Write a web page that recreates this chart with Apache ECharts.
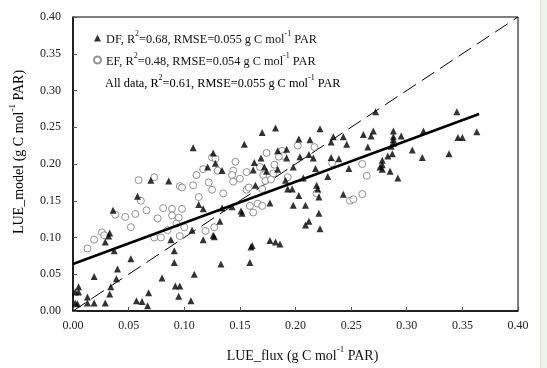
<!DOCTYPE html>
<html>
<head>
<meta charset="utf-8">
<script src="https://cdn.jsdelivr.net/npm/echarts@6/dist/echarts.min.js"></script>
<style>
html,body{margin:0;padding:0;background:#fff;}
#c{width:547px;height:368px;}
</style>
</head>
<body>
<div id="c"></div>
<script>
// ---- data ----
const xTicks = [0, 0.05, 0.10, 0.15, 0.20, 0.25, 0.30, 0.35, 0.40];
const yTicks = [0, 0.05, 0.10, 0.15, 0.20, 0.25, 0.30, 0.35, 0.40];

// DF points: [LUE_flux, LUE_model]
const dfPoints = [
 [0.005,0.033],[0.002,0.026],[0.005,0.026],[0.002,0.011],[0.004,0.010],
 [0.013,0.019],[0.013,0.011],[0.019,0.011],[0.019,0.047],[0.029,0.011],
 [0.033,0.023],[0.034,0.033],[0.039,0.044],[0.040,0.057],[0.037,0.082],
 [0.052,0.071],[0.029,0.094],[0.032,0.102],[0.033,0.106],[0.036,0.137],
 [0.057,0.014],[0.062,0.013],[0.067,0.007],[0.068,0.025],[0.058,0.156],
 [0.070,0.178],[0.080,0.045],[0.086,0.177],[0.091,0.082],[0.091,0.066],
 [0.088,0.097],[0.092,0.034],[0.096,0.034],[0.095,0.020],[0.106,0.014],
 [0.108,0.222],[0.109,0.050],[0.107,0.110],[0.113,0.145],[0.117,0.139],
 [0.117,0.097],[0.126,0.215],[0.128,0.201],[0.121,0.196],[0.134,0.191],
 [0.126,0.103],[0.127,0.101],[0.132,0.122],[0.133,0.064],[0.134,0.140],
 [0.143,0.142],[0.151,0.136],[0.152,0.133],[0.154,0.227],[0.161,0.089],
 [0.160,0.087],[0.159,0.066],[0.163,0.202],[0.162,0.192],[0.164,0.171],
 [0.170,0.243],[0.169,0.208],[0.172,0.196],[0.174,0.190],[0.177,0.147],
 [0.177,0.096],[0.182,0.249],[0.182,0.094],[0.186,0.091],[0.184,0.193],
 [0.184,0.218],[0.191,0.178],[0.192,0.220],[0.192,0.208],[0.193,0.166],
 [0.197,0.166],[0.198,0.144],[0.198,0.196],[0.203,0.234],[0.204,0.210],
 [0.203,0.157],[0.209,0.144],[0.209,0.117],[0.212,0.122],[0.207,0.181],
 [0.212,0.213],[0.213,0.233],[0.216,0.208],[0.218,0.194],[0.219,0.171],
 [0.220,0.166],[0.221,0.155],[0.221,0.133],[0.222,0.112],[0.222,0.248],
 [0.229,0.183],[0.232,0.209],[0.232,0.230],[0.234,0.237],[0.239,0.207],
 [0.243,0.237],[0.243,0.159],[0.246,0.227],[0.248,0.194],[0.261,0.240],
 [0.265,0.223],[0.268,0.238],[0.270,0.245],[0.272,0.271],[0.276,0.196],
 [0.278,0.205],[0.278,0.199],[0.278,0.193],[0.283,0.211],[0.287,0.214],
 [0.286,0.224],[0.285,0.190],[0.288,0.245],[0.288,0.237],[0.288,0.233],
 [0.288,0.228],[0.292,0.181],[0.295,0.238],[0.305,0.219],[0.315,0.245],
 [0.314,0.209],[0.338,0.214],[0.345,0.271],[0.346,0.236],[0.350,0.236],
 [0.363,0.244]
];

// EF points: [LUE_flux, LUE_model]
const efPoints = [
 [0.013,0.085],[0.019,0.097],[0.026,0.107],[0.028,0.103],[0.038,0.131],
 [0.047,0.128],[0.052,0.114],[0.056,0.132],[0.059,0.178],[0.061,0.150],
 [0.066,0.137],[0.073,0.182],[0.076,0.126],[0.081,0.140],[0.073,0.100],
 [0.079,0.100],[0.085,0.110],[0.089,0.139],[0.089,0.130],[0.095,0.127],
 [0.098,0.139],[0.093,0.119],[0.096,0.102],[0.100,0.114],[0.096,0.170],
 [0.098,0.168],[0.108,0.171],[0.111,0.185],[0.113,0.155],[0.117,0.193],
 [0.122,0.175],[0.125,0.209],[0.128,0.207],[0.130,0.191],[0.125,0.165],
 [0.119,0.109],[0.127,0.114],[0.135,0.160],[0.146,0.203],[0.144,0.191],
 [0.143,0.185],[0.144,0.176],[0.150,0.180],[0.156,0.189],[0.156,0.165],
 [0.158,0.168],[0.159,0.143],[0.162,0.134],[0.166,0.146],[0.170,0.143],
 [0.168,0.196],[0.171,0.185],[0.173,0.177],[0.170,0.166],[0.174,0.215],
 [0.181,0.199],[0.180,0.187],[0.178,0.179],[0.188,0.218],[0.189,0.211],
 [0.185,0.210],[0.193,0.182],[0.202,0.225],[0.217,0.223],[0.219,0.160],
 [0.233,0.201],[0.249,0.150],[0.252,0.152],[0.260,0.159],[0.260,0.200],
 [0.264,0.184]
];

// Regression line (all data) and 1:1 line endpoints
const fitLine = [[0.0, 0.064], [0.365, 0.268]];
const oneToOne = [[0.0, 0.0], [0.40, 0.40]];

const legendLines = {
  DF: ['DF, R', '0.68', '0.055'],
  EF: ['EF, R', '0.48', '0.054'],
  All: ['All data, R', '0.61', '0.055']
};

// ---- chart ----
const FONT = '"Liberation Serif", "Times New Roman", serif';
const chart = echarts.init(document.getElementById('c'), null, {renderer: 'canvas'});

const supRich = {
  n: {fontFamily: FONT, fontSize: 12.3, color: '#111', lineHeight: 16, verticalAlign: 'bottom'},
  s: {fontFamily: FONT, fontSize: 8, color: '#111', lineHeight: 16, verticalAlign: 'top', padding: [0,0,6,0]}
};
function legendStr(k) {
  const L = legendLines[k];
  return '{n|' + L[0] + '}{s|2}{n|=' + L[1] + ', RMSE=' + L[2] + ' g C mol}{s|-1}{n| PAR}';
}

const axisRich = {
  n: {fontFamily: FONT, fontSize: 14, color: '#111', lineHeight: 18, verticalAlign: 'bottom'},
  s: {fontFamily: FONT, fontSize: 9, color: '#111', lineHeight: 18, verticalAlign: 'top', padding: [0,0,7,0]}
};

const option = {
  animation: false,
  backgroundColor: '#ffffff',
  grid: {left: 73, right: 29, top: 17, bottom: 57, show: true, borderColor: '#000', borderWidth: 1, backgroundColor: 'transparent'},
  xAxis: {
    type: 'value', min: 0, max: 0.4, interval: 0.05,
    name: '{n|LUE_flux (g C mol}{s|-1}{n| PAR)}',
    nameLocation: 'middle', nameGap: 34,
    nameTextStyle: {rich: axisRich, padding: [0,0,0,14]},
    axisLine: {show: true, lineStyle: {color: '#000', width: 1.5}},
    axisTick: {show: true, inside: true, length: 4, lineStyle: {color: '#555'}},
    axisLabel: {fontFamily: FONT, fontSize: 12, color: '#222', margin: 9,
      formatter: v => v.toFixed(2)},
    splitLine: {show: false}
  },
  yAxis: {
    type: 'value', min: 0, max: 0.4, interval: 0.05,
    axisLine: {show: true, lineStyle: {color: '#000', width: 1.5}},
    axisTick: {show: true, inside: true, length: 4, lineStyle: {color: '#555'}},
    axisLabel: {fontFamily: FONT, fontSize: 12, color: '#222', margin: 12,
      formatter: v => v.toFixed(2)},
    splitLine: {show: false}
  },
  legend: {
    orient: 'vertical', left: 93, top: 30, itemWidth: 7, itemHeight: 7, itemGap: 6,
    padding: 0, selectedMode: false,
    data: [{name: 'DF', icon: 'triangle'}, {name: 'EF', icon: 'circle'}],
    formatter: name => legendStr(name),
    textStyle: {rich: supRich}
  },
  graphic: [
    {type: 'text', left: 105, top: 74, silent: true,
     style: {rich: supRich, text: legendStr('All')}},
    {type: 'text', x: 17, y: 152, rotation: Math.PI / 2, silent: true,
     style: {rich: axisRich, text: '{n|LUE_model (g C mol}{s|-1}{n| PAR)}', align: 'center', verticalAlign: 'middle'}},
    {type: 'rect', right: 0, top: 0, shape: {width: 6, height: 368}, silent: true,
     style: {fill: '#edf4ea'}},
    {type: 'rect', left: 540, top: 0, shape: {width: 1, height: 368}, silent: true,
     style: {fill: '#d6e6cf'}}
  ],
  series: [
    {
      name: 'oneToOne', type: 'line', data: oneToOne, symbol: 'none', silent: true,
      lineStyle: {color: '#000', width: 1, type: [15, 7]}, z: 1
    },
    {
      name: 'EF', type: 'scatter', data: efPoints, symbol: 'circle', symbolSize: 7,
      itemStyle: {color: '#fff', borderColor: '#777', borderWidth: 1}, z: 2
    },
    {
      name: 'DF', type: 'scatter', data: dfPoints, symbol: 'triangle', symbolSize: 7,
      itemStyle: {color: '#000'}, z: 3
    },
    {
      name: 'fit', type: 'line', data: fitLine, symbol: 'none', silent: true,
      lineStyle: {color: '#000', width: 2.5}, z: 4
    }
  ]
};
chart.setOption(option);
</script>
</body>
</html>
